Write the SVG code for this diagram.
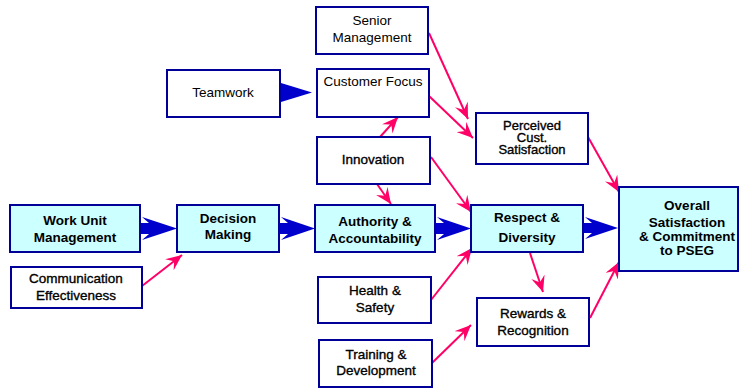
<svg xmlns="http://www.w3.org/2000/svg" width="740" height="391" viewBox="0 0 740 391">
<defs>
<style>
.box{fill:#ffffff;stroke:#000099;stroke-width:2}
.cy{fill:#ccffff;stroke:#000099;stroke-width:2}
text{font-family:"Liberation Sans",Arial,sans-serif;font-size:13.5px;fill:#000;text-anchor:middle}
.b{font-weight:bold}
.m{stroke:#000;stroke-width:0.35}
.pk{stroke:#ff0066;stroke-width:2;fill:none;marker-end:url(#ph)}
.bl{fill:#0000cc}
</style>
<marker id="ph" markerUnits="userSpaceOnUse" markerWidth="18" markerHeight="14" refX="16" refY="7" orient="auto" viewBox="0 0 18 14">
<path d="M0,0 L16,7 L0,14 L6,7 z" fill="#ff0066"/>
</marker>
</defs>
<rect width="740" height="391" fill="#ffffff"/>
<g id="connectors">
<polygon class="bl" points="140,223 149,223 142,217 177,228.5 142,240 149,234 140,234"/>
<polygon class="bl" points="279,223 288,223 281,217 315,228.5 281,240 288,234 279,234"/>
<polygon class="bl" points="435,223 444,223 437,217 471,228.5 437,240 444,234 435,234"/>
<polygon class="bl" points="583,223 592,223 585,217 618,228 585,239 592,233 583,233"/>
<polygon class="bl" points="281,83 312,92.5 281,102"/>
<line class="pk" x1="142" y1="286" x2="182" y2="255"/>
<line class="pk" x1="429" y1="33" x2="468" y2="119"/>
<line class="pk" x1="429" y1="96" x2="473" y2="138"/>
<line class="pk" x1="380" y1="137" x2="398" y2="117"/>
<line class="pk" x1="377" y1="184" x2="391" y2="204"/>
<line class="pk" x1="431" y1="157" x2="471" y2="212"/>
<line class="pk" x1="588" y1="137" x2="619" y2="192"/>
<line class="pk" x1="431" y1="300" x2="472" y2="248"/>
<line class="pk" x1="432" y1="363" x2="471" y2="325"/>
<line class="pk" x1="530" y1="253" x2="543" y2="292"/>
<line class="pk" x1="590" y1="318" x2="619" y2="262"/>
</g>
<g id="work-unit">
<rect class="cy" x="10" y="205" width="130" height="47"/>
<text class="b" x="75" y="225">Work Unit</text>
<text class="b" x="75" y="242">Management</text>
</g>
<g id="communication">
<rect class="box" x="11" y="267" width="131" height="41"/>
<text class="m" x="76" y="283">Communication</text>
<text class="m" x="76" y="300">Effectiveness</text>
</g>
<g id="decision">
<rect class="cy" x="177" y="205" width="102" height="47"/>
<text class="b" x="228" y="223">Decision</text>
<text class="b" x="228" y="239">Making</text>
</g>
<g id="authority">
<rect class="cy" x="315" y="205" width="120" height="47"/>
<text class="b" x="375" y="226">Authority &amp;</text>
<text class="b" x="375" y="243">Accountability</text>
</g>
<g id="respect">
<rect class="cy" x="471" y="205" width="112" height="47"/>
<text class="b" x="527" y="222">Respect &amp;</text>
<text class="b" x="527" y="242">Diversity</text>
</g>
<g id="overall">
<rect class="cy" x="619" y="187" width="119" height="84"/>
<text class="b" x="687" y="210">Overall</text>
<text class="b" x="687" y="227">Satisfaction</text>
<text class="b" x="687" y="241">&amp; Commitment</text>
<text class="b" x="687" y="255">to PSEG</text>
</g>
<g id="senior">
<rect class="box" x="316" y="7" width="112" height="47"/>
<text x="372" y="25">Senior</text>
<text x="372" y="42">Management</text>
</g>
<g id="customer">
<rect class="box" x="317" y="69" width="112" height="48"/>
<text x="373" y="86">Customer Focus</text>
</g>
<g id="teamwork">
<rect class="box" x="167" y="70" width="113" height="47"/>
<text x="223" y="97">Teamwork</text>
</g>
<g id="innovation">
<rect class="box" x="317" y="137" width="113" height="47"/>
<text class="m" x="373" y="164">Innovation</text>
</g>
<g id="perceived">
<rect class="box" x="476" y="113" width="112" height="51"/>
<text class="m" x="532" y="130" style="font-size:13px">Perceived</text>
<text class="m" x="532" y="142" style="font-size:13px">Cust.</text>
<text class="m" x="532" y="154" style="font-size:13px">Satisfaction</text>
</g>
<g id="health">
<rect class="box" x="318" y="277" width="113" height="46"/>
<text class="m" x="375" y="295">Health &amp;</text>
<text class="m" x="375" y="312">Safety</text>
</g>
<g id="training">
<rect class="box" x="319" y="340" width="113" height="47"/>
<text class="m" x="376" y="359">Training &amp;</text>
<text class="m" x="376" y="375">Development</text>
</g>
<g id="rewards">
<rect class="box" x="477" y="298" width="112" height="48"/>
<text class="m" x="533" y="318">Rewards &amp;</text>
<text class="m" x="533" y="335">Recognition</text>
</g>
</svg>
